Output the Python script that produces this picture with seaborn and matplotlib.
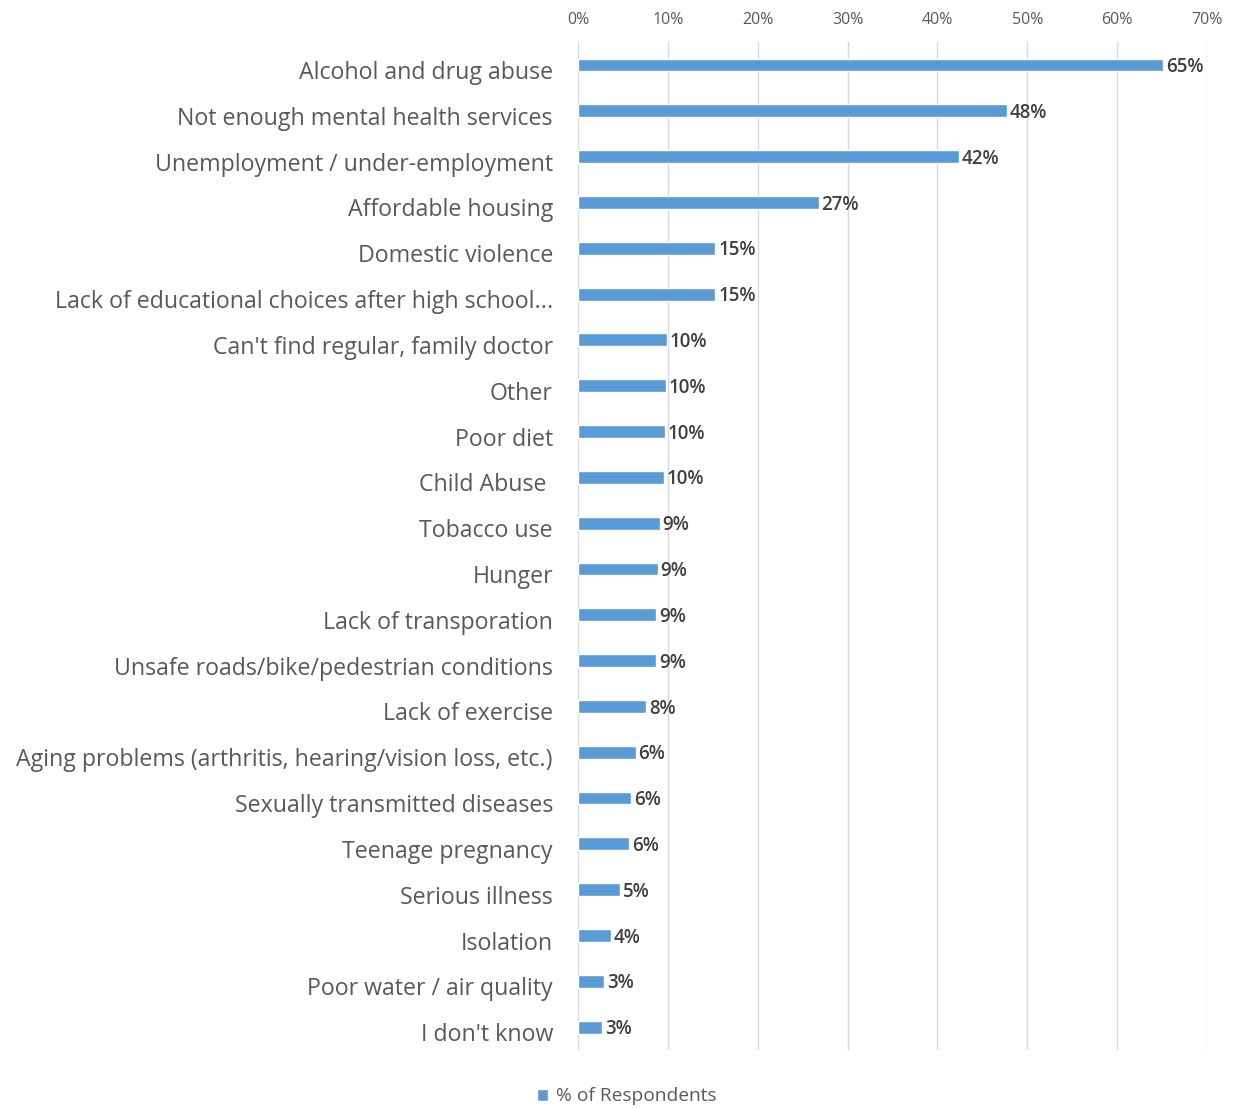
import matplotlib
matplotlib.use("Agg")
import matplotlib.pyplot as plt
import matplotlib.transforms as mtransforms
import seaborn as sns
import pandas as pd
from matplotlib.ticker import PercentFormatter, FixedLocator

categories = [
    "Alcohol and drug abuse",
    "Not enough mental health services",
    "Unemployment / under-employment",
    "Affordable housing",
    "Domestic violence",
    "Lack of educational choices after high school...",
    "Can't find regular, family doctor",
    "Other",
    "Poor diet",
    "Child Abuse ",
    "Tobacco use",
    "Hunger",
    "Lack of transporation",
    "Unsafe roads/bike/pedestrian conditions",
    "Lack of exercise",
    "Aging problems (arthritis, hearing/vision loss, etc.)",
    "Sexually transmitted diseases",
    "Teenage pregnancy",
    "Serious illness",
    "Isolation",
    "Poor water / air quality",
    "I don't know",
]
respondents = [
    0.651, 0.477, 0.424, 0.268, 0.153, 0.153, 0.0985, 0.098, 0.0965, 0.0955, 0.091,
    0.089, 0.087, 0.087, 0.076, 0.064, 0.059, 0.057, 0.047, 0.037, 0.029, 0.027,
]
series_name = "% of Respondents"
x_ticks = [0, 0.1, 0.2, 0.3, 0.4, 0.5, 0.6, 0.7]

df = pd.DataFrame({"category": categories, "value": respondents, "series": series_name})

sns.set_theme(style="white")
plt.rcParams["font.family"] = ["Open Sans", "DejaVu Sans"]

BAR = "#5B9BD5"
fig = plt.figure(figsize=(12.39, 11.08), dpi=100)
ax = fig.add_axes([0.4665, 0.0523, 0.5077, 0.9097])

sns.barplot(data=df, x="value", y="category", hue="series", palette=[BAR],
            saturation=1, orient="h", width=0.28, ax=ax, legend=True)

ax.set_xlim(0, 0.7)
ax.set_ylim(len(categories) - 0.5, -0.5)
ax.xaxis.set_major_locator(FixedLocator(x_ticks))
ax.xaxis.set_major_formatter(PercentFormatter(1.0, decimals=0))
ax.xaxis.tick_top()
ax.tick_params(axis="x", labelsize=11.5, colors="#595959", length=0, pad=10)
ax.tick_params(axis="y", labelsize=16.7, colors="#595959", length=0, pad=18)
ax.grid(axis="x", color="#D9D9D9", linewidth=1)
ax.set_axisbelow(True)
for s in ax.spines.values():
    s.set_visible(False)
ax.set_xlabel("")
ax.set_ylabel("")

# category names sit a little below the bar centre line
shift = mtransforms.ScaledTranslation(0, -5 / 100, fig.dpi_scale_trans)
for lbl in ax.get_yticklabels():
    lbl.set_transform(lbl.get_transform() + shift)

for cont in ax.containers:
    texts = ax.bar_label(cont, labels=[f"{v:.0%}" for v in cont.datavalues],
                         padding=2, fontsize=13.5, color="#404040", fontweight="semibold")
    for t in texts:
        t.xyann = (2, -1.5)

leg = ax.legend(loc="upper center", bbox_to_anchor=(0.0771, -0.020), frameon=False,
                fontsize=13.8, handlelength=0.6, handleheight=0.6, handletextpad=0.4,
                labelcolor="#595959")

fig.savefig("out.png", dpi=100, facecolor="white")
